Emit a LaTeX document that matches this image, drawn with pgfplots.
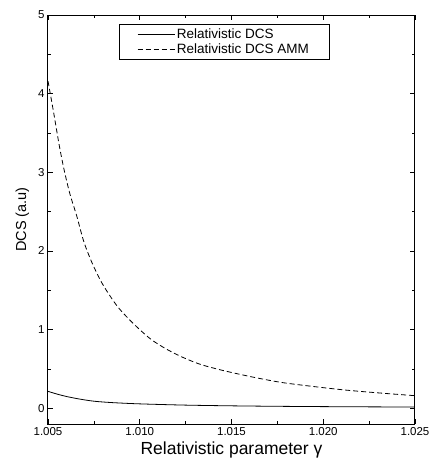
\documentclass[border=0pt]{standalone}
\usepackage{fontspec}
\setmainfont{Liberation Sans}
\usepackage{pgfplots}
\pgfplotsset{compat=1.18}
\begin{document}
\begin{tikzpicture}
\begin{axis}[
  scale only axis,
  width=367pt, height=409pt,
  xmin=1.005, xmax=1.025,
  ymin=-0.2, ymax=5,
  xtick={1.005,1.010,1.015,1.020,1.025},
  xticklabels={1.005,1.010,1.015,1.020,1.025},
  ytick={0,1,2,3,4,5},
  minor x tick num=1,
  minor y tick num=1,
  tick align=inside,
  major tick length=5pt,
  minor tick length=3pt,
  axis line style={line width=1pt},
  every tick/.style={black, line width=0.7pt},
  tick label style={font=\fontsize{11.5}{13}\selectfont},
  /pgf/number format/assume math mode=true,
  scaled x ticks=false,
  xlabel={Relativistic parameter γ},
  ylabel={DCS (a.u)},
  xlabel style={font=\fontsize{17.5}{19}\selectfont, yshift=1pt},
  ylabel style={font=\fontsize{14.5}{16}\selectfont, yshift=2pt},
  legend style={at={(rel axis cs:0.193,0.978)}, anchor=north west,
    font=\fontsize{13.5}{15}\selectfont, draw=black, line width=0.7pt,
    inner xsep=18pt, inner ysep=2pt, row sep=0pt},
  legend cell align=left,
  legend image code/.code={\draw[#1] (0pt,0pt) -- (37pt,0pt);},
]
\addplot[black, line width=0.8pt, smooth] coordinates {
(1.0050,0.215) (1.0055,0.18) (1.0060,0.15) (1.0067,0.118) (1.0075,0.09)
(1.0085,0.072) (1.0100,0.056) (1.0125,0.040) (1.0150,0.031) (1.0175,0.025)
(1.0200,0.021) (1.0225,0.018) (1.0250,0.016)
};
\addlegendentry{Relativistic DCS}
\addplot[black, line width=0.8pt, dash pattern=on 5pt off 3pt, smooth, tension=0.5] coordinates {
(1.00500,4.16) (1.00530,3.77) (1.00560,3.36) (1.00587,3.04) (1.00620,2.72)
(1.00656,2.45) (1.00695,2.12) (1.00738,1.86) (1.00785,1.63) (1.00829,1.46)
(1.00880,1.29) (1.00938,1.14) (1.01000,1.00) (1.01065,0.87) (1.01147,0.75)
(1.01237,0.645) (1.01328,0.56) (1.01420,0.50) (1.01510,0.45) (1.01630,0.39)
(1.01782,0.325) (1.02000,0.262) (1.02146,0.226) (1.02320,0.192) (1.02500,0.160)
};
\addlegendentry{Relativistic DCS AMM}
\end{axis}
\pgfresetboundingbox
\path (current axis.south west) ++(-48pt,-40pt) rectangle ++(430pt,464pt);
\end{tikzpicture}
\end{document}
